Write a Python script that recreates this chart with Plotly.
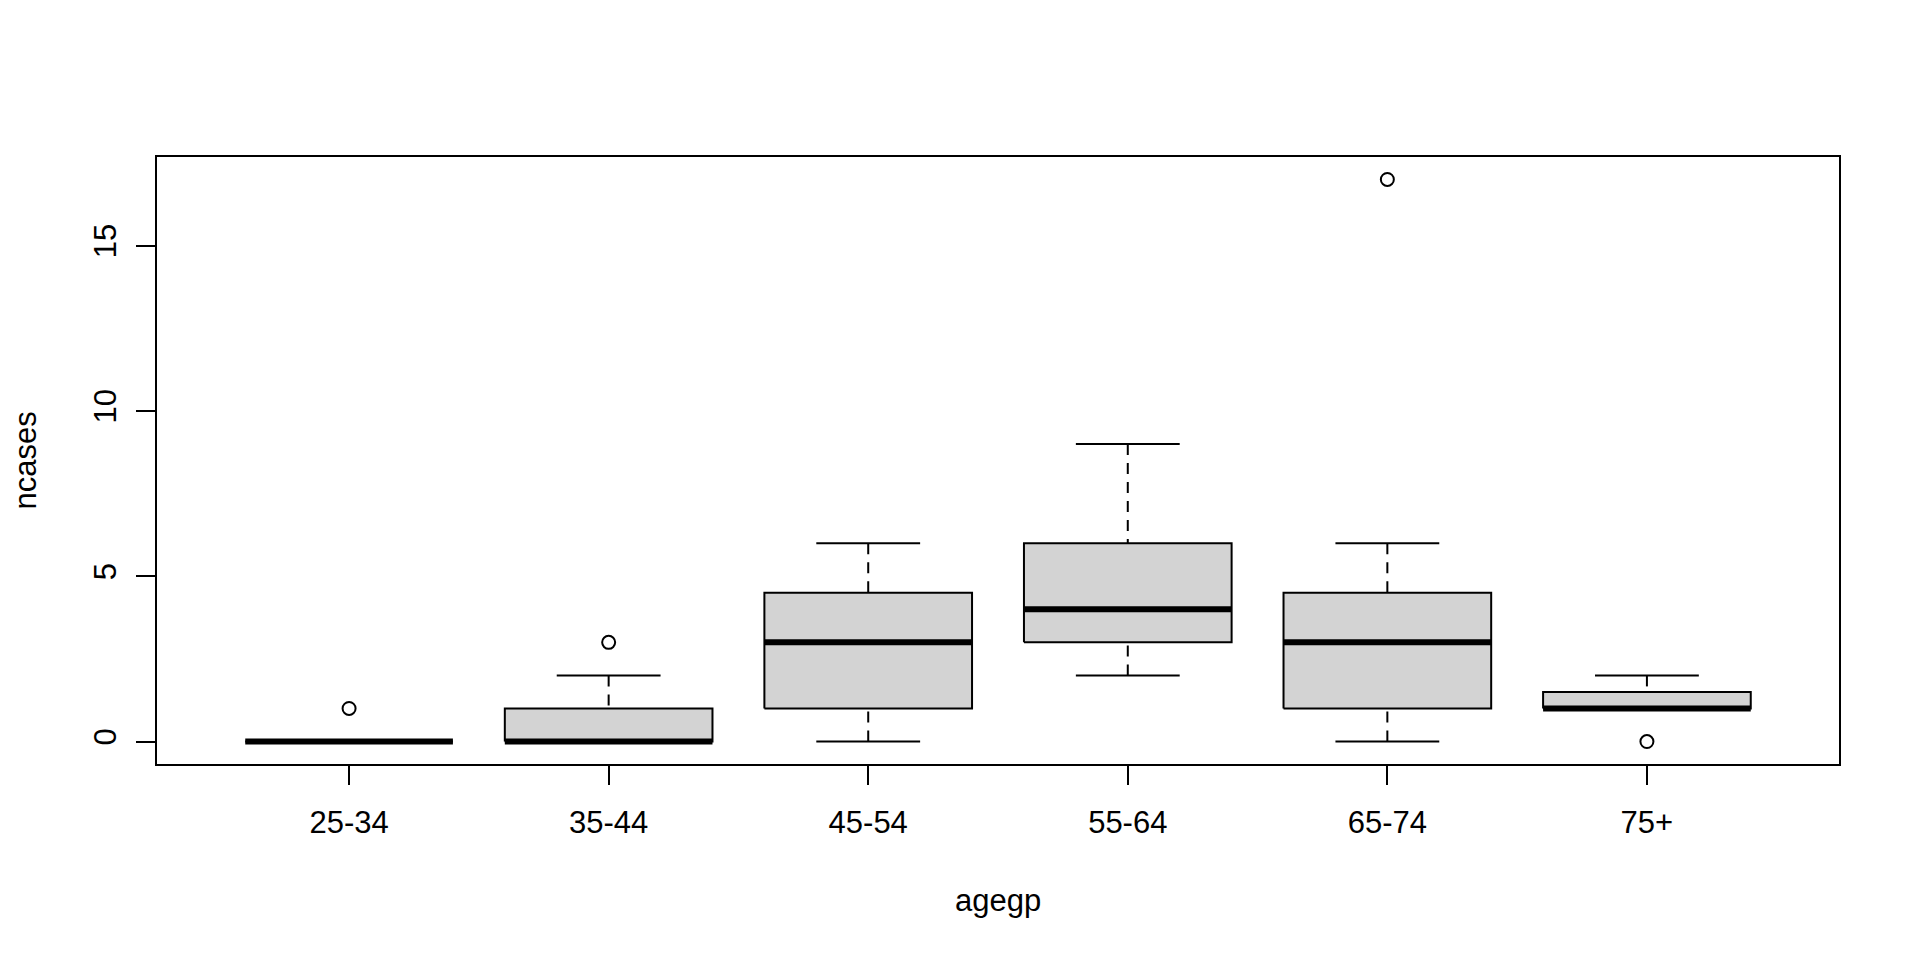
import plotly.graph_objects as go

# ---- data (ncases by agegp) ----
categories = ["25-34", "35-44", "45-54", "55-64", "65-74", "75+"]
q1_vals = [0, 0, 1, 3, 1, 1]
median_vals = [0, 0, 3, 4, 3, 1]
q3_vals = [0, 1, 4.5, 6, 4.5, 1.5]
whisker_low = [0, 0, 0, 2, 0, 1]
whisker_high = [0, 2, 6, 9, 6, 2]
outlier_groups = ["25-34", "35-44", "65-74", "75+"]
outlier_values = [1, 3, 17, 0]
y_ticks = [0, 5, 10, 15]

FONT = "Liberation Sans, Arial, sans-serif"
BOX_HALF = 0.4
CAP_HALF = 0.2

pos = {c: i + 1 for i, c in enumerate(categories)}

box_x, box_y = [], []
med_x, med_y = [], []
wh_x, wh_y = [], []
cap_x, cap_y = [], []
for i, c in enumerate(categories):
    p = pos[c]
    box_x += [p - BOX_HALF, p + BOX_HALF, p + BOX_HALF, p - BOX_HALF, p - BOX_HALF, None]
    box_y += [q1_vals[i], q1_vals[i], q3_vals[i], q3_vals[i], q1_vals[i], None]
    med_x += [p - BOX_HALF, p + BOX_HALF, None]
    med_y += [median_vals[i], median_vals[i], None]
    if whisker_high[i] > q3_vals[i]:
        wh_x += [p, p, None]
        wh_y += [whisker_high[i], q3_vals[i], None]
    if whisker_low[i] < q1_vals[i]:
        wh_x += [p, p, None]
        wh_y += [whisker_low[i], q1_vals[i], None]
    cap_x += [p - CAP_HALF, p + CAP_HALF, None, p - CAP_HALF, p + CAP_HALF, None]
    cap_y += [whisker_high[i], whisker_high[i], None, whisker_low[i], whisker_low[i], None]

fig = go.Figure()
fig.add_trace(go.Scatter(x=box_x, y=box_y, mode="lines", fill="toself",
                         fillcolor="#D3D3D3", line=dict(color="black", width=2),
                         hoverinfo="skip", showlegend=False))
fig.add_trace(go.Scatter(x=wh_x, y=wh_y, mode="lines",
                         line=dict(color="black", width=2, dash="11px,8px"),
                         hoverinfo="skip", showlegend=False))
fig.add_trace(go.Scatter(x=cap_x, y=cap_y, mode="lines",
                         line=dict(color="black", width=2),
                         hoverinfo="skip", showlegend=False))
fig.add_trace(go.Scatter(x=med_x, y=med_y, mode="lines",
                         line=dict(color="black", width=6),
                         hoverinfo="skip", showlegend=False))
fig.add_trace(go.Scatter(x=[pos[g] for g in outlier_groups], y=outlier_values,
                         mode="markers",
                         marker=dict(symbol="circle-open", size=13,
                                     color="black", line=dict(width=2, color="black")),
                         showlegend=False))

fig.update_layout(
    width=1920, height=960,
    margin=dict(l=157, r=81, t=157, b=196, pad=0),
    paper_bgcolor="white", plot_bgcolor="white",
    font=dict(family=FONT, size=31, color="black"),
    showlegend=False,
    xaxis=dict(range=[0.26, 6.74], tickmode="array",
               tickvals=[pos[c] for c in categories], ticktext=categories,
               ticks="outside", ticklen=19, tickwidth=2, tickcolor="black",
               showline=True, linewidth=2, linecolor="black", mirror=True,
               showgrid=False, zeroline=False, ticklabelstandoff=11,
               tickfont=dict(family=FONT, size=31, color="black")),
    yaxis=dict(range=[-0.68, 17.68], tickmode="array", tickvals=y_ticks,
               ticktext=[str(v) for v in y_ticks], tickangle=-90,
               ticks="outside", ticklen=19, tickwidth=2, tickcolor="black",
               showline=True, linewidth=2, linecolor="black", mirror=True,
               showgrid=False, zeroline=False, ticklabelstandoff=8,
               tickfont=dict(family=FONT, size=31, color="black")),
    annotations=[
        dict(text="agegp", xref="paper", yref="paper", x=0.5, y=-0.2257,
             xanchor="center", yanchor="middle", showarrow=False,
             font=dict(family=FONT, size=31, color="black")),
        dict(text="ncases", xref="paper", yref="paper", x=-0.0779, y=0.5,
             xanchor="center", yanchor="middle", textangle=-90, showarrow=False,
             font=dict(family=FONT, size=31, color="black")),
    ],
)

fig.write_html("out.html", config={"displayModeBar": False},
               post_script="document.body.style.margin='0';")
